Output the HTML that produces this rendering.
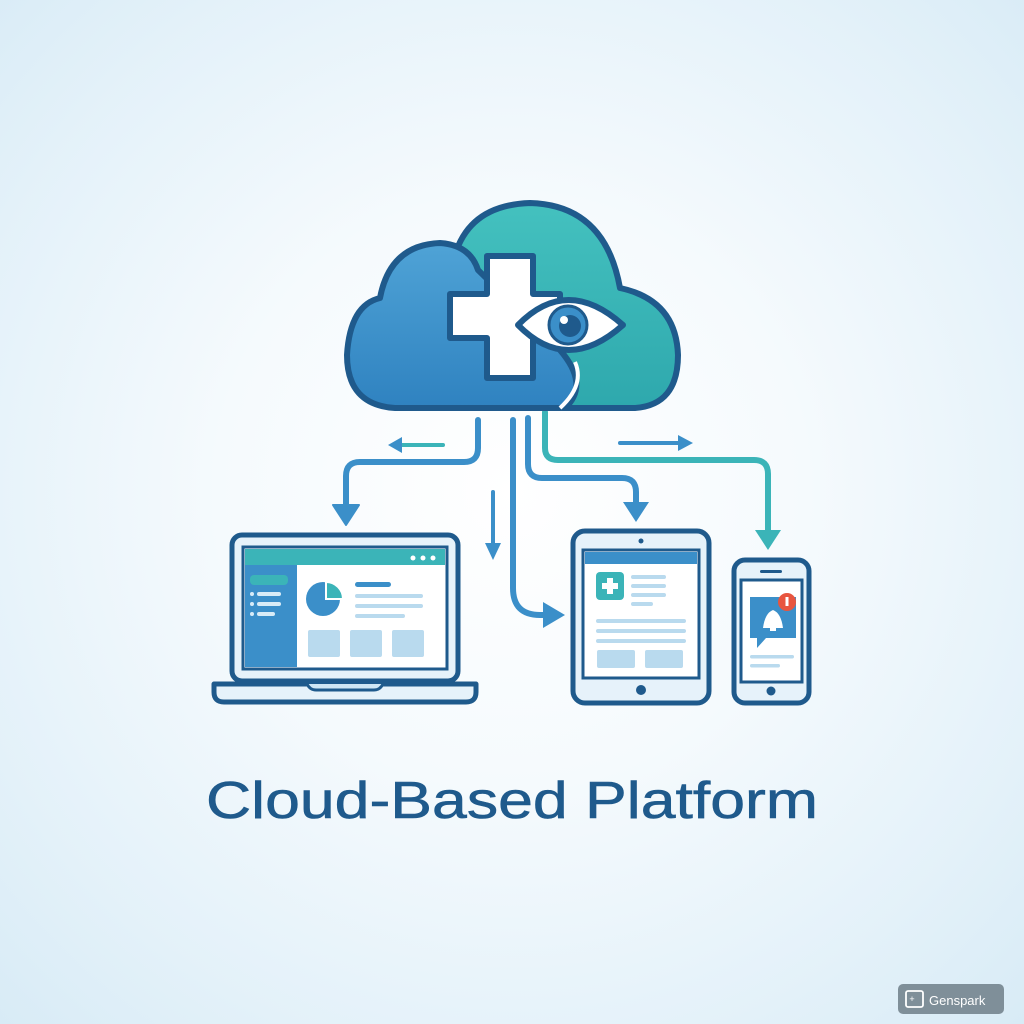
<!DOCTYPE html>
<html><head><meta charset="utf-8"><style>
html,body{margin:0;padding:0;width:1024px;height:1024px;overflow:hidden}
body{background:radial-gradient(circle at 50% 48%,#ffffff 0%,#f5fafd 40%,#e3f1f9 78%,#d8ebf6 100%)}
svg{position:absolute;left:0;top:0}
</style></head><body>
<svg width="1024" height="1024" viewBox="0 0 1024 1024">
<defs>
<linearGradient id="gb" x1="0" y1="0" x2="0" y2="1"><stop offset="0" stop-color="#4fa3d6"/><stop offset="1" stop-color="#2f82c0"/></linearGradient>
<linearGradient id="gt" x1="0" y1="0" x2="0" y2="1"><stop offset="0" stop-color="#44c1bf"/><stop offset="1" stop-color="#2ea8ad"/></linearGradient>
</defs>
<g stroke-linecap="round" stroke-linejoin="round" fill="none">
<path d="M478 420 V448 Q478 462 464 462 H360 Q346 462 346 476 V510" stroke="#3b8fc9" stroke-width="6"/>
<polygon points="333,505 359,505 346,525" fill="#3b8fc9" stroke="#3b8fc9" stroke-width="2"/>
<path d="M443 445 H400" stroke="#3bb4b8" stroke-width="4"/>
<polygon points="402,437 402,453 388,445" fill="#3b8fc9"/>
<path d="M493 492 V545" stroke="#3b8fc9" stroke-width="4"/>
<polygon points="485,543 501,543 493,560" fill="#3b8fc9"/>
<path d="M513 420 V588 Q513 615 540 615 H548" stroke="#3b8fc9" stroke-width="6"/>
<polygon points="543,602 543,628 565,615" fill="#3b8fc9"/>
<path d="M528 418 V464 Q528 478 542 478 H622 Q636 478 636 492 V505" stroke="#3b8fc9" stroke-width="6"/>
<polygon points="623,502 649,502 636,522" fill="#3b8fc9"/>
<path d="M545 412 V448 Q545 460 558 460 H754 Q768 460 768 474 V532" stroke="#3bb4b8" stroke-width="6"/>
<polygon points="755,530 781,530 768,550" fill="#3bb4b8"/>
<path d="M620 443 H680" stroke="#3b8fc9" stroke-width="4"/>
<polygon points="678,435 678,451 693,443" fill="#3b8fc9"/>
</g>
<!-- cloud -->
<path d="M550 408 H635 Q678 405 678 355 Q676 300 620 288 Q605 205 530 203 Q470 205 455 255 L460 408 Z" fill="url(#gt)" stroke="#1f5a8c" stroke-width="6" stroke-linejoin="round"/>
<path d="M395 408 Q347 405 347 355 Q350 305 380 298 Q390 245 440 243 Q470 245 478 270 L560 350 Q590 385 565 408 Z" fill="url(#gb)" stroke="#1f5a8c" stroke-width="6" stroke-linejoin="round"/>
<path d="M575 362 Q585 385 560 408" stroke="#fff" stroke-width="4" fill="none"/>
<path d="M487 256 H533 V294 H560 V338 H533 V378 H487 V338 H450 V294 H487 Z" fill="#fff" stroke="#1f5a8c" stroke-width="6" stroke-linejoin="round"/>
<path d="M518 325 Q567 275 623 325 Q567 375 518 325 Z" fill="#fff" stroke="#1f5a8c" stroke-width="6" stroke-linejoin="round"/>
<circle cx="568" cy="325" r="19" fill="#3b8fc9" stroke="#1f5a8c" stroke-width="3"/>
<circle cx="570" cy="326" r="11" fill="#1f5a8c"/>
<circle cx="564" cy="320" r="4" fill="#fff"/>
<!-- laptop -->
<rect x="232" y="535" width="226" height="146" rx="10" fill="#e6f2fa" stroke="#1f5a8c" stroke-width="5"/>
<rect x="243" y="547" width="204" height="122" fill="#fff" stroke="#1f5a8c" stroke-width="3"/>
<rect x="245" y="549" width="200" height="16" fill="#3bb4b8"/>
<circle cx="413" cy="558" r="2.5" fill="#fff"/><circle cx="423" cy="558" r="2.5" fill="#fff"/><circle cx="433" cy="558" r="2.5" fill="#fff"/>
<rect x="245" y="565" width="52" height="102" fill="#3b8fc9"/>
<rect x="250" y="575" width="38" height="10" rx="4" fill="#3bb4b8"/>
<g fill="#d8ecf7"><circle cx="252" cy="594" r="2"/><circle cx="252" cy="604" r="2"/><circle cx="252" cy="614" r="2"/>
<rect x="257" y="592" width="24" height="4" rx="2"/><rect x="257" y="602" width="24" height="4" rx="2"/><rect x="257" y="612" width="18" height="4" rx="2"/></g>
<circle cx="323" cy="599" r="17" fill="#3b8fc9"/>
<path d="M326 582 A17 17 0 0 1 343 599 H326 Z" fill="#3bb4b8" stroke="#fff" stroke-width="2"/>
<rect x="355" y="582" width="36" height="5" rx="2.5" fill="#3b8fc9"/>
<g fill="#b9daee"><rect x="355" y="594" width="68" height="4" rx="2"/><rect x="355" y="604" width="68" height="4" rx="2"/><rect x="355" y="614" width="50" height="4" rx="2"/>
<rect x="308" y="630" width="32" height="27" rx="2"/><rect x="350" y="630" width="32" height="27" rx="2"/><rect x="392" y="630" width="32" height="27" rx="2"/></g>
<path d="M214 684 H476 V692 Q476 702 466 702 H224 Q214 702 214 692 Z" fill="#e6f2fa" stroke="#1f5a8c" stroke-width="5" stroke-linejoin="round"/>
<path d="M307 684 Q310 690 316 690 H374 Q380 690 383 684" fill="#cfe6f4" stroke="#1f5a8c" stroke-width="3"/>
<!-- tablet -->
<rect x="573" y="531" width="136" height="172" rx="12" fill="#e6f2fa" stroke="#1f5a8c" stroke-width="5"/>
<circle cx="641" cy="541" r="2.5" fill="#1f5a8c"/>
<rect x="583" y="550" width="116" height="128" fill="#fff" stroke="#1f5a8c" stroke-width="3"/>
<rect x="585" y="552" width="112" height="12" fill="#3b8fc9"/>
<rect x="596" y="572" width="28" height="28" rx="4" fill="#3bb4b8"/>
<path d="M607 578 H613 V583 H618 V589 H613 V594 H607 V589 H602 V583 H607 Z" fill="#fff"/>
<g fill="#b9daee"><rect x="631" y="575" width="35" height="4" rx="2"/><rect x="631" y="584" width="35" height="4" rx="2"/><rect x="631" y="593" width="35" height="4" rx="2"/><rect x="631" y="602" width="22" height="4" rx="2"/>
<rect x="596" y="619" width="90" height="4" rx="2"/><rect x="596" y="629" width="90" height="4" rx="2"/><rect x="596" y="639" width="90" height="4" rx="2"/>
<rect x="597" y="650" width="38" height="18" rx="2"/><rect x="645" y="650" width="38" height="18" rx="2"/></g>
<circle cx="641" cy="690" r="5" fill="#1f5a8c"/>
<!-- phone -->
<rect x="734" y="560" width="75" height="143" rx="11" fill="#e6f2fa" stroke="#1f5a8c" stroke-width="5"/>
<rect x="760" y="570" width="22" height="3" rx="1.5" fill="#1f5a8c"/>
<rect x="741" y="580" width="61" height="102" fill="#fff" stroke="#1f5a8c" stroke-width="3"/>
<path d="M750 597 H796 V638 H766 L757 648 V638 H750 Z" fill="#3b8fc9"/>
<path d="M763 628 Q765 613 773 610 Q781 613 783 628 Z" fill="#fff"/>
<rect x="770" y="628" width="6" height="3" fill="#fff"/>
<circle cx="787" cy="602" r="9" fill="#e8553f"/>
<rect x="785.5" y="597" width="3" height="9" fill="#fff"/>
<rect x="750" y="655" width="44" height="3.5" rx="1.7" fill="#b9daee"/>
<rect x="750" y="664" width="30" height="3.5" rx="1.7" fill="#b9daee"/>
<circle cx="771" cy="691" r="4.5" fill="#1f5a8c"/>
<text x="512" y="818" text-anchor="middle" font-family="Liberation Sans, sans-serif" font-size="52" fill="#1f5a8c" stroke="#1f5a8c" stroke-width="0.6" textLength="612" lengthAdjust="spacingAndGlyphs">Cloud-Based Platform</text>
<rect x="898" y="984" width="106" height="30" rx="5" fill="#7f8f99"/>
<rect x="906" y="991" width="17" height="16" rx="2" fill="none" stroke="#fff" stroke-width="1.8"/>
<text x="912" y="1002" font-family="Liberation Sans, sans-serif" font-size="9" fill="#fff" text-anchor="middle">+</text>
<text x="929" y="1005" font-family="Liberation Sans, sans-serif" font-size="13" fill="#fff">Genspark</text>
</svg>
</body></html>
